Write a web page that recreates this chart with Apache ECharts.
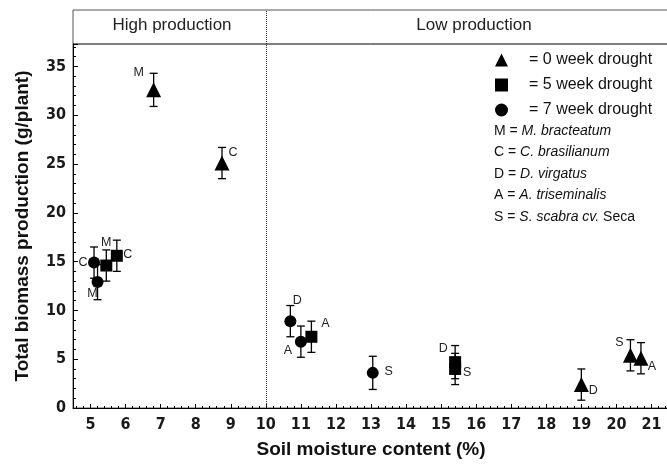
<!DOCTYPE html>
<html><head><meta charset="utf-8">
<script src="https://cdn.jsdelivr.net/npm/echarts@6/dist/echarts.min.js"></script>
<style>html,body{margin:0;padding:0;background:#fff}#c{width:667px;height:468px}</style>
</head><body><div id="c"></div>
<script>
// ---- data ----
const name0 = '= 0 week drought';
const name5 = '= 5 week drought';
const name7 = '= 7 week drought';
const sp0 = ['M', 'C', 'D', 'S', 'A'];
const x0 = [6.8, 8.75, 19.0, 20.4, 20.7];
const y0 = [32.6, 25.1, 2.4, 5.4, 5.1];
const e0 = [1.7, 1.6, 1.6, 1.6, 1.6];
const sp5 = ['M', 'C', 'A', 'D', 'S'];
const x5 = [5.45, 5.75, 11.3, 15.4, 15.4];
const y5 = [14.6, 15.6, 7.3, 4.7, 4.0];
const e5 = [1.6, 1.6, 1.6, 1.7, 1.6];
const sp7 = ['C', 'M', 'D', 'A', 'S'];
const x7 = [5.1, 5.2, 10.7, 11.0, 13.05];
const y7 = [14.9, 12.9, 8.9, 6.8, 3.6];
const e7 = [1.6, 1.8, 1.6, 1.6, 1.7];
const divideX = 10;
const regionNames = ['High production', 'Low production'];
const keyLines = [
  '{n|M = }{i|M. bracteatum}',
  '{n|C = }{i|C. brasilianum}',
  '{n|D = }{i|D. virgatus}',
  '{n|A = }{i|A. triseminalis}',
  '{n|S = }{i|S. scabra cv.}{n| Seca}'
];
const xName = 'Soil moisture content (%)';
const yName = 'Total biomass production (g/plant)';

// ---- styles ----
const labelOffsets = {
  t: {M: [-15, -17], C: [11, -11], D: [12, 6], S: [-11, -13], A: [11, 8]},
  s: {M: [0, -23], C: [11, -1], A: [14, -13], D: [-12, -14], S: [12, 4]},
  c: {C: [-11, 0], M: [-5, 11], D: [7, -21], A: [-13, 9], S: [16, -1]}
};
const FONT = "'Liberation Sans', Arial, sans-serif";
const NARROW = "'Liberation Sans Narrow', 'DejaVu Sans Condensed', 'Liberation Sans', sans-serif";

function pts(xs, ys, sp, key) {
  return xs.map((v, i) => ({
    value: [v, ys[i]],
    label: {offset: labelOffsets[key][sp[i]], formatter: sp[i]}
  }));
}
function errs(xs, ys, es) {
  return xs.map((v, i) => [v, ys[i] - es[i], ys[i] + es[i]]);
}
function errRender(params, api) {
  const x = api.value(0), lo = api.value(1), hi = api.value(2);
  const p1 = api.coord([x, hi]), p2 = api.coord([x, lo]);
  const w = 4;
  const st = {stroke: '#000', lineWidth: 1.3};
  return {type: 'group', children: [
    {type: 'line', shape: {x1: p1[0], y1: p1[1], x2: p2[0], y2: p2[1]}, style: st},
    {type: 'line', shape: {x1: p1[0] - w, y1: p1[1], x2: p1[0] + w, y2: p1[1]}, style: st},
    {type: 'line', shape: {x1: p2[0] - w, y1: p2[1], x2: p2[0] + w, y2: p2[1]}, style: st}
  ]};
}
const scatterLabel = {show: true, position: 'inside', color: '#222', fontSize: 12.5, fontFamily: FONT};
function errSeries(data) {
  return {type: 'custom', renderItem: errRender, data: data, encode: {x: 0, y: [1, 2]}, z: 1, silent: true};
}
const divLine = {
  silent: true, symbol: 'none', label: {show: false},
  lineStyle: {type: 'dotted', color: '#333', width: 1},
  data: [{xAxis: divideX}]
};

const chart = echarts.init(document.getElementById('c'), null, {renderer: 'canvas'});
chart.setOption({
  animation: false,
  backgroundColor: '#fff',
  grid: [
    {left: 73, width: 596, top: 44, bottom: 60, show: true, borderColor: '#555', borderWidth: 1, containLabel: false, outerBoundsMode: 'none'},
    {left: 73, width: 596, top: 10, height: 34, show: true, borderColor: '#555', borderWidth: 1, containLabel: false, outerBoundsMode: 'none'}
  ],
  xAxis: [
    {
      type: 'value', gridIndex: 0, min: 4.5, max: 21.5, splitNumber: 17,
      name: xName, nameLocation: 'middle', nameGap: 32,
      nameTextStyle: {fontSize: 19, fontWeight: 'bold', fontFamily: FONT, color: '#111'},
      axisLine: {show: true, lineStyle: {color: '#000', width: 1}},
      axisTick: {show: true, inside: true, length: 4, lineStyle: {color: '#000'}},
      minorTick: {show: true, splitNumber: 5, length: 2, lineStyle: {color: '#000'}},
      splitLine: {show: false}, minorSplitLine: {show: false},
      axisLabel: {
        margin: 9, fontSize: 16, fontWeight: 'bold', fontFamily: NARROW, color: '#1a1a1a',
        formatter: v => (Math.abs(v - Math.round(v)) < 1e-6 ? String(Math.round(v)) : '')
      }
    },
    {
      type: 'value', gridIndex: 1, min: 4.5, max: 21.5, show: false,
      splitLine: {show: false}
    }
  ],
  yAxis: [
    {
      type: 'value', gridIndex: 0, min: 0, max: 37.3, interval: 5,
      name: yName, nameLocation: 'middle', nameGap: 41, nameRotate: 90,
      nameTextStyle: {fontSize: 19, fontWeight: 'bold', fontFamily: FONT, color: '#111'},
      axisLine: {show: true, lineStyle: {color: '#000', width: 1}},
      axisTick: {show: true, inside: true, length: 5, lineStyle: {color: '#000'}},
      minorTick: {show: true, splitNumber: 5, length: 3, lineStyle: {color: '#000'}},
      splitLine: {show: false}, minorSplitLine: {show: false},
      axisLabel: {
        margin: 7, fontSize: 16, fontWeight: 'bold', fontFamily: NARROW, color: '#1a1a1a',
        showMaxLabel: false,
        formatter: v => (Math.abs(v % 5) < 1e-6 ? String(v) : '')
      }
    },
    {type: 'value', gridIndex: 1, min: 0, max: 1, show: false, splitLine: {show: false}}
  ],
  legend: {
    orient: 'vertical', left: 490, top: 47, itemWidth: 13, itemHeight: 13, itemGap: 9,
    textStyle: {fontSize: 16, fontFamily: FONT, color: '#111', padding: [0, 0, 0, 16]},
    itemStyle: {color: '#000'},
    data: [{name: name0, icon: 'triangle'}, {name: name5, icon: 'rect'}, {name: name7, icon: 'circle'}]
  },
  graphic: [
    {type: 'text', x: 172, y: 25, style: {text: regionNames[0], fontSize: 17, fontFamily: FONT, fill: '#222', align: 'center', verticalAlign: 'middle'}},
    {type: 'text', x: 474, y: 25, style: {text: regionNames[1], fontSize: 17, fontFamily: FONT, fill: '#222', align: 'center', verticalAlign: 'middle'}},
    {type: 'text', x: 494, y: 120, style: {
      text: keyLines.join('\n'), fill: '#111', fontFamily: FONT, fontSize: 14, lineHeight: 21.5,
      rich: {
        n: {fontSize: 14, fontFamily: FONT, lineHeight: 21.5, fill: '#111'},
        i: {fontSize: 14, fontFamily: FONT, fontStyle: 'italic', lineHeight: 21.5, fill: '#111'}
      }
    }}
  ],
  series: [
    errSeries(errs(x0, y0, e0)),
    errSeries(errs(x5, y5, e5)),
    errSeries(errs(x7, y7, e7)),
    {name: name0, type: 'scatter', symbol: 'triangle', symbolSize: 15, itemStyle: {color: '#000', opacity: 1}, label: scatterLabel, data: pts(x0, y0, sp0, 't'), z: 3},
    {name: name5, type: 'scatter', symbol: 'rect', symbolSize: 12, itemStyle: {color: '#000', opacity: 1}, label: scatterLabel, data: pts(x5, y5, sp5, 's'), z: 3},
    {name: name7, type: 'scatter', symbol: 'circle', symbolSize: 12, itemStyle: {color: '#000', opacity: 1}, label: scatterLabel, data: pts(x7, y7, sp7, 'c'), z: 3},
    {type: 'line', xAxisIndex: 0, yAxisIndex: 0, data: [], markLine: divLine},
    {type: 'line', xAxisIndex: 1, yAxisIndex: 1, data: [], markLine: divLine}
  ]
});
</script>
</body></html>
